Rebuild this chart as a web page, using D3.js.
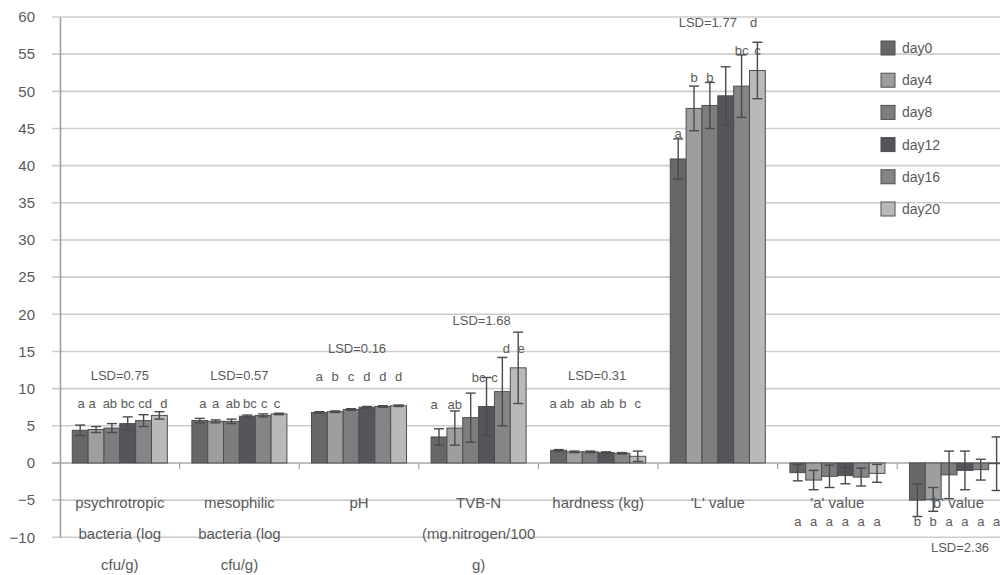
<!DOCTYPE html>
<html>
<head>
<meta charset="utf-8">
<script src="https://cdn.jsdelivr.net/npm/d3@7"></script>
<style>
  html, body { margin: 0; padding: 0; background: #fff; }
  svg { display: block; font-family: "Liberation Sans", Arial, sans-serif; }
</style>
</head>
<body>
<svg id="chart" width="1000" height="575"></svg>
<script>
// Quality attributes of stored samples, by storage day
const categories = ["psychro", "meso", "pH", "TVBN", "hardness", "L", "a", "b"];
const categoryLines = [
  ["psychrotropic", "bacteria (log", "cfu/g)"],
  ["mesophilic", "bacteria (log", "cfu/g)"],
  ["pH"],
  ["TVB-N", "(mg.nitrogen/100", "g)"],
  ["hardness (kg)"],
  ["'L' value"],
  ["'a' value"],
  ["'b' value"]
];
const days = ["day0", "day4", "day8", "day12", "day16", "day20"];

// Means per day, one value per category
const day0  = [4.4, 5.7, 6.8, 3.5, 1.7, 40.9, -1.3, -5.0];
const day4  = [4.5, 5.6, 6.9, 4.7, 1.5, 47.7, -2.3, -4.9];
const day8  = [4.7, 5.6, 7.2, 6.1, 1.5, 48.1, -1.8, -1.6];
const day12 = [5.3, 6.3, 7.5, 7.6, 1.4, 49.4, -1.7, -1.0];
const day16 = [5.7, 6.4, 7.6, 9.6, 1.3, 50.7, -1.9, -0.9];
const day20 = [6.4, 6.6, 7.7, 12.8, 0.9, 52.8, -1.4, -0.1];

// Standard deviations per day
const err0  = [0.7, 0.3, 0.1, 1.1, 0.1, 2.7, 1.1, 2.2];
const err4  = [0.4, 0.2, 0.1, 2.3, 0.1, 3.0, 1.3, 1.6];
const err8  = [0.6, 0.3, 0.1, 3.3, 0.1, 3.1, 1.5, 3.2];
const err12 = [0.9, 0.15, 0.1, 3.9, 0.1, 3.9, 1.1, 2.6];
const err16 = [0.8, 0.2, 0.1, 4.6, 0.1, 4.2, 1.2, 1.4];
const err20 = [0.5, 0.1, 0.1, 4.8, 0.7, 3.8, 1.2, 3.6];

// Significance letters and LSD per category
const letters = [
  ["a", "a", "ab", "bc", "cd", "d"],
  ["a", "a", "ab", "bc", "c", "c"],
  ["a", "b", "c", "d", "d", "d"],
  ["a", "ab", "bc", "c", "d", "e"],
  ["a", "ab", "ab", "ab", "b", "c"],
  ["a", "b", "b", "d", "bc", "c"],
  ["a", "a", "a", "a", "a", "a"],
  ["b", "b", "a", "a", "a", "a"]
];
const lsdLabels = ["LSD=0.75", "LSD=0.57", "LSD=0.16", "LSD=1.68", "LSD=0.31", "LSD=1.77", "", "LSD=2.36"];

const yTicks = d3.range(-10, 61, 5);

const seriesValues = [day0, day4, day8, day12, day16, day20];
const seriesErrors = [err0, err4, err8, err12, err16, err20];
const colors = ["#666769", "#9d9ea0", "#7c7d7f", "#54565a", "#848587", "#b7b9bb"];

// ---- layout ----
const svg = d3.select("#chart");
const left = 60, bandW = 119.6;
const x0 = d3.scaleBand().domain(categories).range([left, left + bandW * categories.length]).padding(0);
const x1 = d3.scaleBand().domain(days).range([0, x0.bandwidth()]).paddingInner(0).paddingOuter(0.775);
const y = d3.scaleLinear().domain([-10, 60]).range([537.3, 17]);

const textColor = "#5a5a5a";

// gridlines
svg.append("g").selectAll("line").data(yTicks).join("line")
  .attr("x1", left - 8).attr("x2", 1000)
  .attr("y1", d => y(d)).attr("y2", d => y(d))
  .attr("stroke", d => d === 0 ? "#a8a8a8" : "#cdcdcd")
  .attr("stroke-width", 1.6);

// y axis
const yAxis = d3.axisLeft(y).tickValues(yTicks).tickSize(0).tickPadding(25).tickFormat(d3.format("d"));
const gy = svg.append("g").attr("transform", `translate(${left},0)`).call(yAxis);
gy.select(".domain").attr("stroke", "#a0a0a0").attr("stroke-width", 1.6);
gy.selectAll("text").attr("fill", textColor).attr("font-size", 15);

// category separators below the zero line
svg.append("g").selectAll("line").data(categories.slice(1)).join("line")
  .attr("x1", d => x0(d)).attr("x2", d => x0(d))
  .attr("y1", y(0)).attr("y2", y(0) + 6)
  .attr("stroke", "#a0a0a0").attr("stroke-width", 1.2);

// bars
const barData = [];
categories.forEach((c, ci) => {
  days.forEach((d, si) => {
    barData.push({ c, ci, d, si, v: seriesValues[si][ci], e: seriesErrors[si][ci] });
  });
});

svg.append("g").selectAll("rect").data(barData).join("rect")
  .attr("x", b => x0(b.c) + x1(b.d))
  .attr("width", x1.bandwidth())
  .attr("y", b => y(Math.max(0, b.v)))
  .attr("height", b => Math.abs(y(b.v) - y(0)))
  .attr("fill", b => colors[b.si])
  .attr("stroke", "#4e4e50").attr("stroke-width", 1);

// error bars
const cap = 5;
const eg = svg.append("g").attr("stroke", "#4a4a4c").attr("stroke-width", 1.4);
barData.forEach(b => {
  const cx = x0(b.c) + x1(b.d) + x1.bandwidth() / 2;
  const yt = y(b.v + b.e), yb = y(b.v - b.e);
  eg.append("line").attr("x1", cx).attr("x2", cx).attr("y1", yt).attr("y2", yb);
  eg.append("line").attr("x1", cx - cap).attr("x2", cx + cap).attr("y1", yt).attr("y2", yt);
  eg.append("line").attr("x1", cx - cap).attr("x2", cx + cap).attr("y1", yb).attr("y2", yb);
});

// letter placement: row y (px) per category and bar, plus horizontal nudges
const letterY = [
  [403, 403, 403, 403, 403, 403],
  [403, 403, 403, 403, 403, 403],
  [376, 376, 376, 376, 376, 376],
  [404, 404, 377, 377, 348, 348],
  [403, 403, 403, 403, 403, 403],
  [133, 77, 77, 22, 50, 50],
  [521, 521, 521, 521, 521, 521],
  [521, 521, 521, 521, 521, 521]
];
const letterDx = [
  [1, -4, -2, 0, 1.5, 4.5],
  [3, 0, 1.5, 2.5, 1, -2],
  [0, 0, 0, 0, 0, 0],
  [-5, 0, 8, 8, 4, 3],
  [-5.5, -7.5, -2.5, 1, 1, 0],
  [0, 0, 0, 28, 0, 0],
  [0, 0, 0, 0, 0, 0],
  [0, 0, 0, 0, 0, 0]
];
const lg = svg.append("g").attr("fill", textColor).attr("font-size", 13)
  .attr("text-anchor", "middle").attr("dominant-baseline", "central");
letters.forEach((row, ci) => {
  row.forEach((t, si) => {
    lg.append("text")
      .attr("x", x0(categories[ci]) + x1(days[si]) + x1.bandwidth() / 2 + letterDx[ci][si])
      .attr("y", letterY[ci][si])
      .text(t);
  });
});

// LSD labels
const lsdPos = [[0, 375], [0, 375], [-2, 348], [3, 320], [-1, 375], [-10, 22], [0, 0], [3, 547]];
lsdLabels.forEach((t, ci) => {
  if (!t) return;
  lg.append("text")
    .attr("x", x0(categories[ci]) + x0.bandwidth() / 2 + lsdPos[ci][0])
    .attr("y", lsdPos[ci][1])
    .text(t);
});

// category labels
const cg = svg.append("g").attr("fill", textColor).attr("font-size", 15)
  .attr("text-anchor", "middle").attr("dominant-baseline", "central");
categoryLines.forEach((lines, ci) => {
  lines.forEach((t, li) => {
    cg.append("text")
      .attr("x", x0(categories[ci]) + x0.bandwidth() / 2)
      .attr("y", 502 + li * 31)
      .text(t);
  });
});

// legend
const leg = svg.append("g").attr("transform", "translate(881,41)");
days.forEach((d, i) => {
  const g = leg.append("g").attr("transform", `translate(0,${i * 32.2})`);
  g.append("rect").attr("width", 14).attr("height", 14)
    .attr("fill", colors[i]).attr("stroke", "#4e4e50").attr("stroke-width", 1);
  g.append("text").attr("x", 21).attr("y", 7).attr("dominant-baseline", "central")
    .attr("fill", textColor).attr("font-size", 14).text(d);
});
</script>
</body>
</html>
